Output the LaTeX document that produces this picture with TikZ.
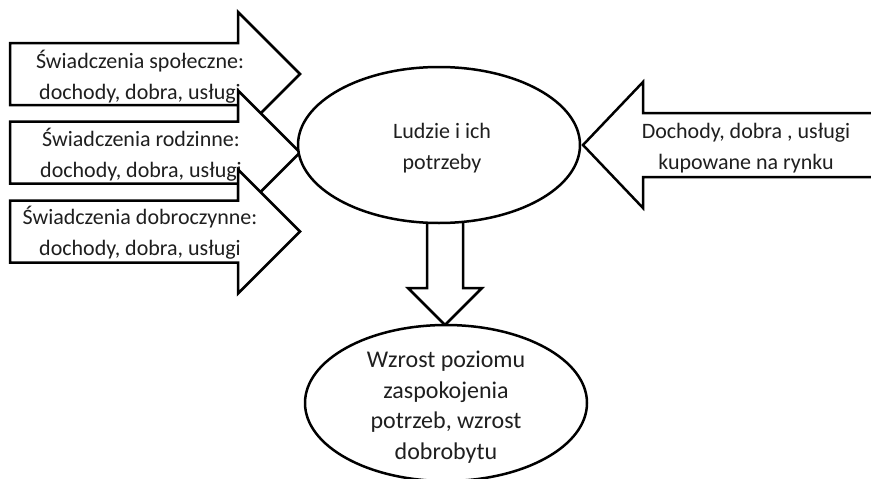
\documentclass[tikz,border=0pt]{standalone}
\usepackage{fontspec}
\setmainfont{Carlito}
\usetikzlibrary{shapes.geometric}
\begin{document}
\begin{tikzpicture}[x=1pt,y=-1pt,
  outline/.style={draw=black, line width=2.5pt, fill=white, line join=miter},
  caption/.style={font=\fontsize{22}{31}\selectfont, align=center, text=black!88, inner sep=0pt},
  bigcaption/.style={caption, font=\fontsize{24}{30.5}\selectfont},
  bubble/.style={outline, ellipse, minimum width=282pt, minimum height=156pt, inner sep=0pt}]
\useasboundingbox (0,0) rectangle (871,479);

% block arrow pointing right: left x, head base x, tip x, centre y
\newcommand{\blockright}[4]{%
  \draw[outline] (#1,#4-31) -- (#2,#4-31) -- (#2,#4-62) -- (#3,#4)
    -- (#2,#4+62) -- (#2,#4+31) -- (#1,#4+31) -- cycle;}

% three incoming streams on the left, each lying over the one above
\blockright{10}{238}{300}{74}
\node[caption] (social) at (140,77) {Świadczenia społeczne:\\dochody, dobra, usługi};
\blockright{10}{238}{300}{152.5}
\node[caption] (family) at (141,155) {Świadczenia rodzinne:\\dochody, dobra, usługi};
\blockright{10}{238}{300}{231.5}
\node[caption] (charity) at (140,233) {Świadczenia dobroczynne:\\dochody, dobra, usługi};

% market stream from the right
\draw[outline] (880,113) -- (643,113) -- (643,82) -- (583,145) -- (643,208)
  -- (643,177) -- (880,177);
\node[caption] (market) at (746,148) {Dochody, dobra , usługi\\kupowane na rynku};

% downward arrow towards the outcome
\draw[outline] (427,200) -- (427,288) -- (408,288) -- (445,325) -- (482,288)
  -- (463,288) -- (463,200) -- cycle;

% central and outcome ellipses
\node[bubble] (people) at (439,145) {};
\node[caption] (peopletext) at (442,148) {Ludzie i ich\\potrzeby};
\node[bubble] (outcome) at (446,403) {};
\node[bigcaption] (outcometext) at (446,407) {Wzrost poziomu\\zaspokojenia\\potrzeb, wzrost\\dobrobytu};
\end{tikzpicture}
\end{document}
